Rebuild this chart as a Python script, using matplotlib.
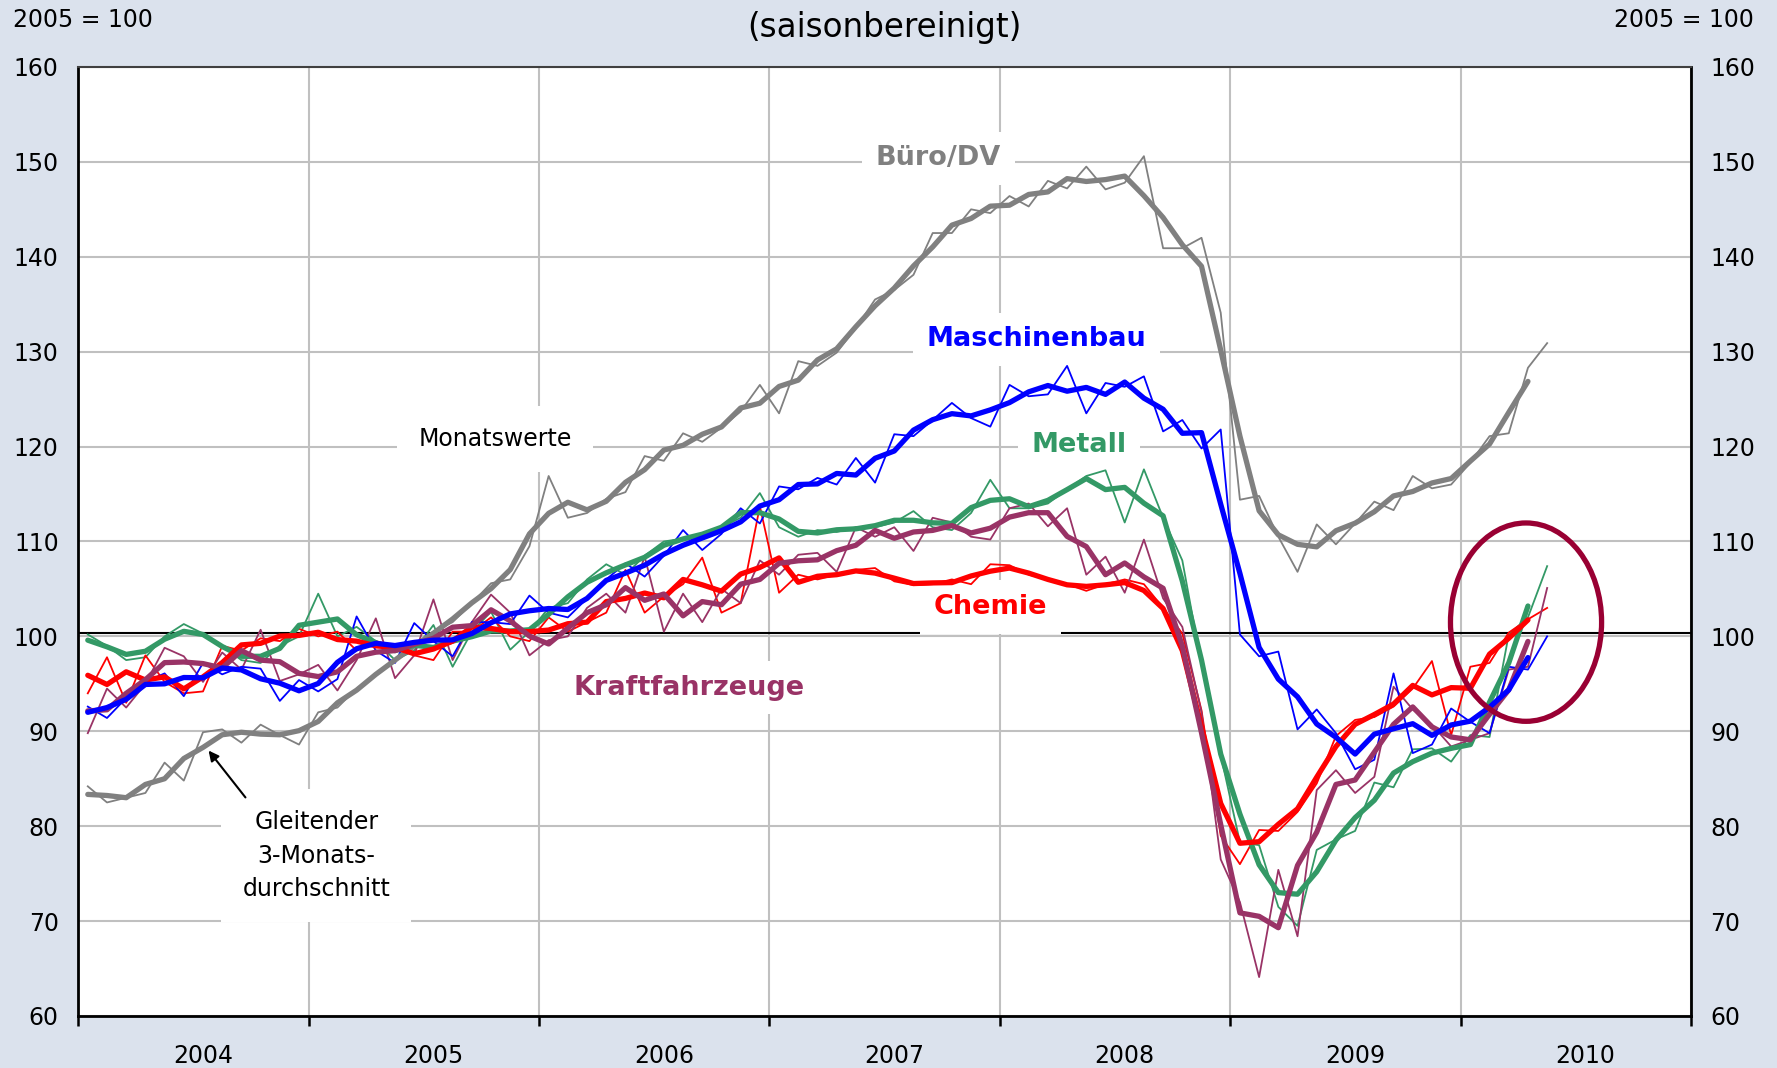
import numpy as np
import pandas as pd
import matplotlib
matplotlib.use("Agg")
import matplotlib.pyplot as plt
from matplotlib.patches import Ellipse

# Auftragseingang nach Branchen, 2005 = 100, saisonbereinigt
# Monatswerte Jan 2004 - Mai 2010
years = [2004, 2005, 2006, 2007, 2008, 2009, 2010]

buero_dv = [84.2, 82.5, 83.0, 83.5, 86.7, 84.8, 89.9, 90.2, 88.8, 90.7, 89.6, 88.6,
            92.0, 92.5, 94.5, 96.0, 97.5, 99.0, 100.5, 101.5, 103.5, 105.6, 106.0, 109.5,
            116.9, 112.5, 113.0, 114.5, 115.2, 119.0, 118.5, 121.4, 120.5, 122.0, 123.7, 126.5,
            123.5, 129.0, 128.5, 129.9, 132.5, 135.5, 136.5, 138.1, 142.5, 142.5, 145.0, 144.6,
            146.4, 145.3, 148.0, 147.2, 149.5, 147.1, 147.8, 150.6, 140.9, 140.9, 142.0, 134.1,
            114.4, 114.8, 110.5, 106.8, 111.8, 109.7, 111.9, 114.2, 113.3, 116.9, 115.6, 116.0,
            118.3, 121.1, 121.4, 128.3, 130.9]

maschinenbau = [92.6, 91.4, 93.5, 95.2, 96.1, 93.7, 97.2, 96.0, 96.8, 96.6, 93.2, 95.4,
                94.2, 95.5, 102.1, 98.5, 97.2, 101.4, 99.5, 97.9, 101.5, 101.5, 101.3, 104.3,
                102.5, 102.0, 104.0, 106.0, 107.7, 106.3, 108.5, 111.2, 109.1, 110.8, 113.5, 111.9,
                115.8, 115.5, 116.7, 116.0, 118.8, 116.2, 121.3, 121.1, 122.8, 124.6, 123.0, 122.1,
                126.5, 125.3, 125.5, 128.5, 123.5, 126.7, 126.3, 127.4, 121.6, 122.8, 119.8, 121.8,
                100.2, 97.9, 98.4, 90.2, 92.3, 89.8, 86.0, 87.0, 96.1, 87.7, 88.6, 92.4,
                91.0, 89.8, 96.8, 96.5, 100.0]

metall = [100.2, 99.0, 97.5, 97.8, 100.0, 101.3, 100.3, 99.0, 97.5, 97.2, 99.0, 100.0,
          104.5, 100.0, 101.0, 99.5, 97.5, 98.5, 101.2, 96.8, 100.5, 102.6, 98.6, 100.5,
          103.0, 103.5, 106.0, 107.6, 106.5, 108.5, 110.0, 110.3, 110.5, 111.5, 112.5, 115.1,
          111.5, 110.5, 111.2, 111.0, 111.5, 111.5, 112.0, 113.2, 111.5, 111.2, 113.0, 116.5,
          113.5, 113.5, 114.0, 115.5, 116.9, 117.5, 112.0, 117.6, 112.5, 108.0, 97.0, 87.5,
          78.3, 78.0, 71.5, 69.5, 77.5, 78.6, 79.5, 84.6, 84.1, 88.1, 88.2, 86.8,
          89.6, 89.4, 100.2, 102.0, 107.4]

chemie = [94.0, 97.8, 93.0, 98.0, 95.2, 94.0, 94.2, 99.0, 98.5, 99.8, 99.5, 100.8,
          100.0, 100.5, 98.5, 99.5, 99.0, 98.0, 97.5, 100.5, 100.5, 102.0, 100.0, 99.5,
          102.0, 100.5, 101.5, 102.5, 107.0, 102.5, 104.2, 105.5, 108.3, 102.5, 103.5, 113.7,
          104.6, 106.5, 106.0, 106.5, 107.0, 107.2, 105.8, 105.4, 105.5, 106.0, 105.5, 107.6,
          107.5, 106.5, 106.0, 105.5, 104.8, 105.5, 106.0, 105.5, 103.0, 100.3, 92.2, 79.0,
          76.0, 79.6, 79.5, 81.5, 84.5, 89.5, 91.2, 91.5, 92.6, 94.5, 97.4, 89.6,
          96.8, 97.2, 100.4, 101.8, 103.0]

kfz = [89.8, 94.5, 92.5, 95.0, 98.8, 97.9, 95.2, 98.3, 96.5, 100.7, 95.3, 96.0,
       97.0, 94.3, 97.5, 101.9, 95.6, 98.0, 103.9, 97.5, 101.5, 104.4, 102.5, 98.0,
       99.6, 100.0, 103.0, 104.5, 102.5, 108.4, 100.5, 104.5, 101.5, 105.0, 103.5, 108.0,
       106.5, 108.6, 108.8, 106.8, 111.5, 110.5, 111.5, 109.0, 112.5, 112.0, 110.5, 110.2,
       113.5, 114.0, 111.6, 113.5, 106.5, 108.4, 104.6, 110.2, 104.0, 101.0, 92.0, 76.5,
       72.0, 64.1, 75.4, 68.4, 83.8, 85.9, 83.5, 85.2, 94.7, 92.3, 90.7, 88.4,
       89.1, 89.8, 96.5, 96.8, 105.1]

df = pd.DataFrame({"Büro/DV": buero_dv, "Metall": metall, "Chemie": chemie,
                   "Kraftfahrzeuge": kfz, "Maschinenbau": maschinenbau})
x = np.arange(len(df))

# gleitender 3-Monats-Durchschnitt (zentriert), letzter Monat noch ohne Wert
ma = df.rolling(3, center=True, min_periods=2).mean()
ma.iloc[-1] = np.nan

colors = {"Büro/DV": "#808080", "Metall": "#339966", "Chemie": "#ff0000",
          "Kraftfahrzeuge": "#993366", "Maschinenbau": "#0000ff"}

bg = "#dbe2ed"
plt.rcParams["font.family"] = "DejaVu Sans"

fig = plt.figure(figsize=(17.77, 10.68), dpi=100, facecolor=bg)
ax = fig.add_axes([0.044, 0.0487, 0.9077, 0.8886])
ax.set_facecolor("white")

for name in df.columns:
    ax.plot(x, df[name], color=colors[name], lw=1.3, zorder=4)
for name in df.columns:
    ax.plot(x, ma[name], color=colors[name], lw=3.8, zorder=5,
            solid_capstyle="round", solid_joinstyle="round")

ax.axhline(100.4, color="black", lw=1.5, zorder=3)

ax.set_xlim(-0.5, 83.5)
ax.set_ylim(60, 160)
ax.set_yticks(range(60, 161, 10))
ax.set_xticks(np.arange(-0.5, 84, 12))
ax.set_xticklabels([])
ax.set_xticks(np.arange(6, 84, 12), minor=True)
ax.set_xticklabels([str(y) for y in years], minor=True)
ax.tick_params(axis="x", which="major", length=7, width=1.8, direction="out")
ax.tick_params(axis="x", which="minor", length=0, pad=20, labelsize=17)
ax.tick_params(axis="y", length=0, labelsize=17, labelright=True, pad=14)

ax.set_axisbelow(True)
ax.grid(color="#c0c0c0", lw=1.5)
for side in ["left", "bottom", "right"]:
    ax.spines[side].set_linewidth(2)
    ax.spines[side].set_color("black")
ax.spines["top"].set_linewidth(1.5)
ax.spines["top"].set_color("#404040")

box = dict(facecolor="white", edgecolor="none", boxstyle="square,pad=0.5")
lab = dict(fontsize=19.5, fontweight="bold", ha="center", va="center", zorder=3)
ax.text(44.3, 150.4, "Büro/DV", color=colors["Büro/DV"], bbox=box, **lab)
ax.text(49.4, 131.3, "Maschinenbau", color=colors["Maschinenbau"], bbox=box, **lab)
ax.text(51.6, 120.2, "Metall", color=colors["Metall"], bbox=box, **lab)
ax.text(47.0, 103.1, "Chemie", color=colors["Chemie"], bbox=box, **lab)
ax.text(31.3, 94.6, "Kraftfahrzeuge", color=colors["Kraftfahrzeuge"], bbox=box, **lab)

ax.text(21.2, 120.8, "Monatswerte", fontsize=17, ha="center", va="center", zorder=3,
        bbox=dict(facecolor="white", edgecolor="none", boxstyle="square,pad=0.9"))
ax.text(11.9, 76.9, "Gleitender\n3-Monats-\ndurchschnitt", fontsize=17, ha="center",
        va="center", linespacing=1.5, zorder=3,
        bbox=dict(facecolor="white", edgecolor="none", boxstyle="square,pad=0.9"))
ax.annotate("", xy=(6.2, 88.2), xytext=(8.3, 82.8), zorder=6,
            arrowprops=dict(arrowstyle="-|>", color="black", lw=1.5, mutation_scale=15))

ax.add_patch(Ellipse((74.9, 101.5), width=7.87, height=20.9, fill=False,
                     edgecolor="#990033", lw=3.8, zorder=7))

fig.text(13 / 1777, 1 - 20 / 1068, "2005 = 100", fontsize=17, ha="left", va="center")
fig.text(1754 / 1777, 1 - 20 / 1068, "2005 = 100", fontsize=17, ha="right", va="center")
fig.text(884 / 1777, 1 - 27 / 1068, "(saisonbereinigt)", fontsize=23.5, ha="center", va="center")

fig.savefig("out.png", dpi=100, facecolor=bg)
